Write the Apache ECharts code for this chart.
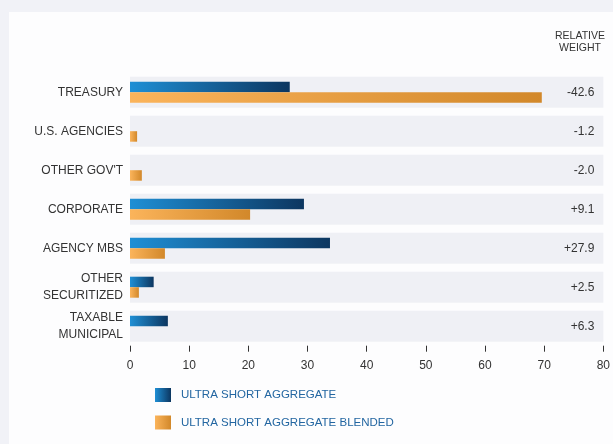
<!DOCTYPE html>
<html>
<head>
<meta charset="utf-8">
<script src="https://cdn.jsdelivr.net/npm/echarts@6/dist/echarts.min.js"></script>
<style>
html,body{margin:0;padding:0;background:#f1f2f7;}
#chart{width:613px;height:444px;}
</style>
</head>
<body>
<div id="chart"></div>
<script>
const categories = ['TREASURY', 'U.S. AGENCIES', "OTHER GOV'T", 'CORPORATE', 'AGENCY MBS', 'OTHER\nSECURITIZED', 'TAXABLE\nMUNICIPAL'];
const ultraShort = [27.0, 0, 0, 29.4, 33.8, 4.0, 6.4];
const ultraShortBlended = [69.6, 1.2, 2.0, 20.3, 5.9, 1.5, 0];
const relativeWeight = ['-42.6', '-1.2', '-2.0', '+9.1', '+27.9', '+2.5', '+6.3'];
const xTicks = { min: 0, max: 80, interval: 10 };
const seriesNames = ['ULTRA SHORT AGGREGATE', 'ULTRA SHORT AGGREGATE BLENDED'];

const FONT = '"Liberation Sans", Arial, sans-serif';
const blueGrad = new echarts.graphic.LinearGradient(0, 0, 1, 0, [
  { offset: 0, color: '#1f8fd5' }, { offset: 1, color: '#0c3660' }]);
const orangeGrad = new echarts.graphic.LinearGradient(0, 0, 1, 0, [
  { offset: 0, color: '#fbb45b' }, { offset: 1, color: '#d2882a' }]);

const chart = echarts.init(document.getElementById('chart'), null, { renderer: 'canvas' });
chart.setOption({
  backgroundColor: '#f1f2f7',
  animation: false,
  graphic: [
    { type: 'rect', z: -10, silent: true, shape: { x: 9, y: 12, width: 604, height: 432 }, style: { fill: '#fdfdfe' } },
    { type: 'text', x: 580, y: 42, z: 10, style: { text: 'RELATIVE\nWEIGHT', fill: '#333', font: '10.5px ' + FONT, textAlign: 'center', textVerticalAlign: 'middle', lineHeight: 12 } }
  ],
  grid: { left: 130, right: 7, top: 72.7, height: 273, containLabel: false },
  legend: {
    data: seriesNames,
    orient: 'vertical',
    left: 155, top: 388, padding: 0,
    itemWidth: 16, itemHeight: 14, itemGap: 13.5,
    icon: 'rect',
    textStyle: { color: '#2366a1', fontFamily: FONT, fontSize: 11.5, padding: [0, 0, 0, 5] }
  },
  xAxis: {
    type: 'value', min: xTicks.min, max: xTicks.max, interval: xTicks.interval,
    axisLine: { show: false },
    axisTick: { show: true, length: 6, lineStyle: { color: '#333', width: 1 } },
    splitLine: { show: false },
    axisLabel: { color: '#333', fontFamily: FONT, fontSize: 12, margin: 14 }
  },
  yAxis: [
    {
      type: 'category', data: categories, inverse: true,
      axisLine: { show: false }, axisTick: { show: false },
      axisLabel: { color: '#333', fontFamily: FONT, fontSize: 12, margin: 7, lineHeight: 16.5, align: 'right' }
    },
    {
      type: 'category', data: categories, inverse: true, show: false
    }
  ],
  series: [
    {
      name: 'band', type: 'bar', yAxisIndex: 1, data: categories.map(() => xTicks.max),
      barWidth: 31, silent: true, z: 1,
      itemStyle: { color: '#eff0f5' },
      label: {
        show: true, position: 'insideRight', distance: 9,
        formatter: p => relativeWeight[p.dataIndex],
        color: '#333', fontFamily: FONT, fontSize: 12
      }
    },
    {
      name: seriesNames[0], type: 'bar', yAxisIndex: 0, data: ultraShort,
      barWidth: 10.5, barGap: '0%', z: 3,
      itemStyle: { color: blueGrad }
    },
    {
      name: seriesNames[1], type: 'bar', yAxisIndex: 0, data: ultraShortBlended,
      barWidth: 10.5, barGap: '0%', z: 3,
      itemStyle: { color: orangeGrad }
    }
  ]
});
</script>
</body>
</html>
